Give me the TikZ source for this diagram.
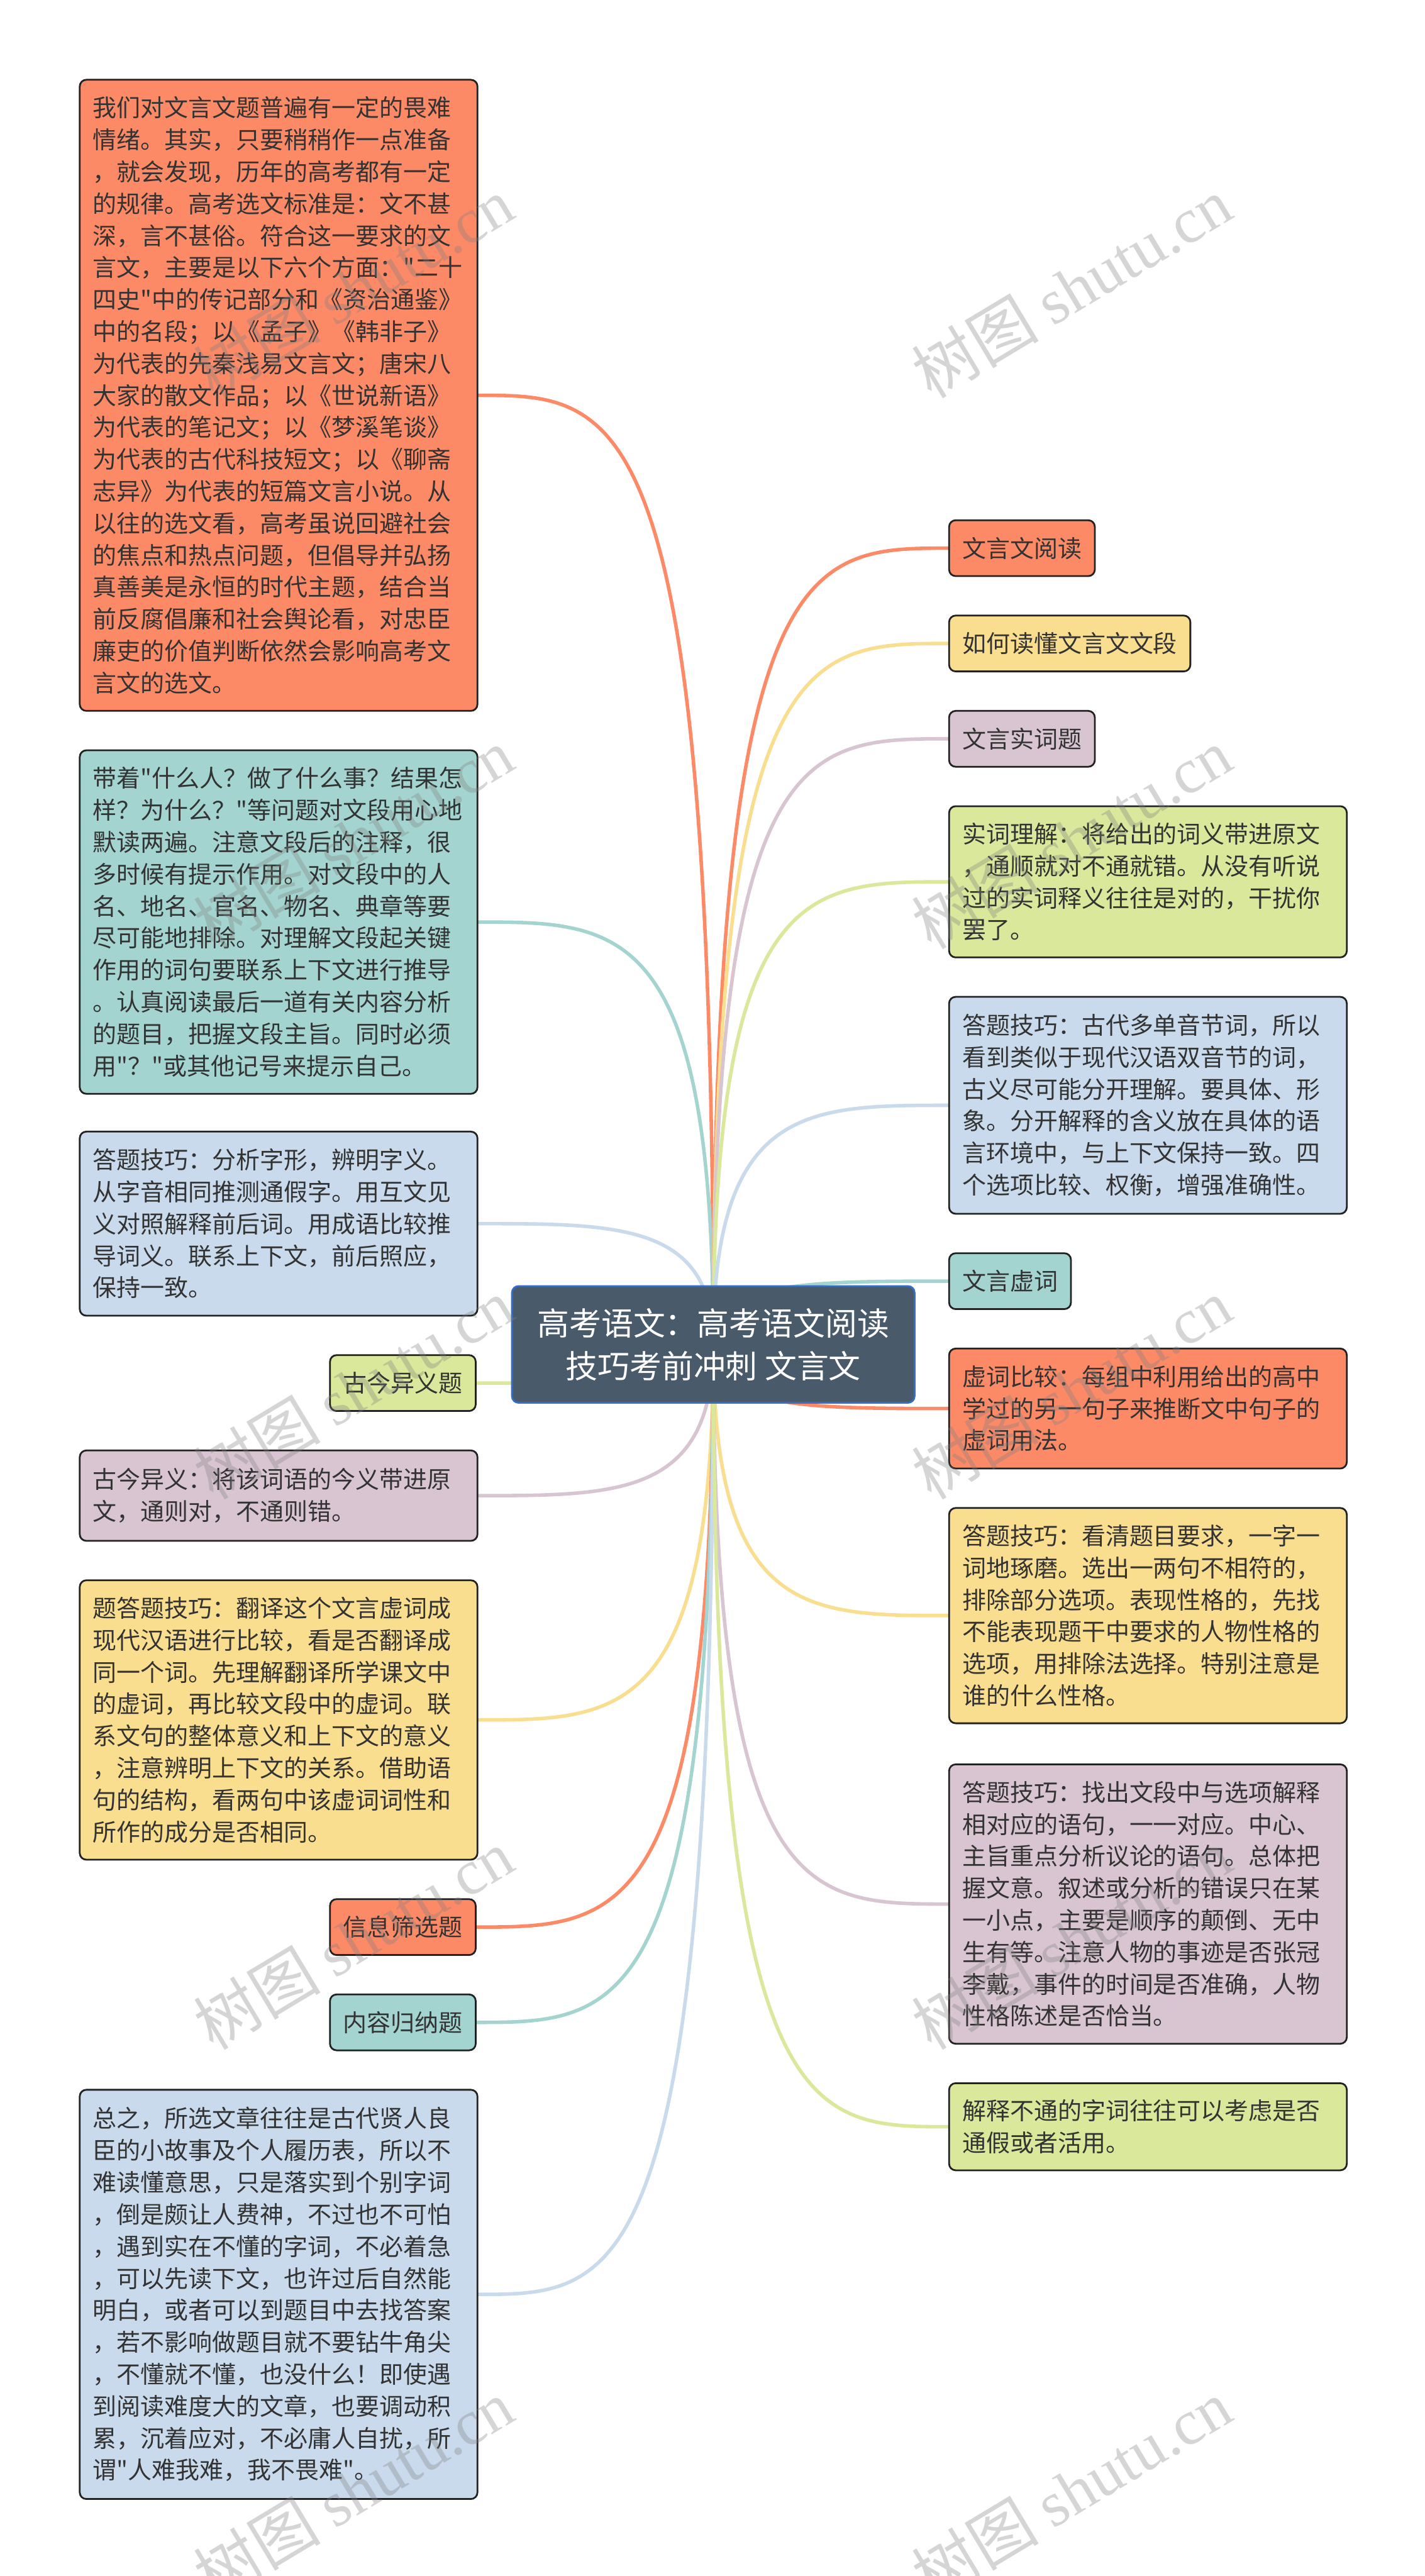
\documentclass[tikz,border=0pt]{standalone}
\usepackage{fontspec}
\setmainfont{Noto Sans CJK SC}[Ligatures=TeXOff]
\newfontfamily\wmfont{Liberation Serif}
\usetikzlibrary{calc,backgrounds}
\definecolor{cOrange}{RGB}{253,138,103}
\definecolor{cTeal}{RGB}{164,212,207}
\definecolor{cBlue}{RGB}{200,218,235}
\definecolor{cGreen}{RGB}{217,232,155}
\definecolor{cMauve}{RGB}{216,197,209}
\definecolor{cYellow}{RGB}{249,222,143}
\definecolor{cRoot}{RGB}{73,90,107}
\definecolor{cRootLine}{RGB}{52,110,200}
\definecolor{cInk}{RGB}{51,51,51}
\definecolor{cEdge}{RGB}{34,34,34}
\setlength{\parindent}{0pt}

\begin{document}
\begin{tikzpicture}[x=0.75pt,y=0.75pt,yscale=-1,xscale=1,
  leaf/.style={draw=cEdge, line width=0.8pt, rounded corners=3pt, anchor=north west, inner xsep=6pt, inner ysep=0pt, text width=169.5pt, align=left, text=cInk, font=\fontsize{10.9pt}{14.58pt}\selectfont},
  tag/.style={draw=cEdge, line width=0.8pt, rounded corners=3pt, inner xsep=6pt, inner ysep=0pt, minimum height=25.5pt, text=cInk, font=\fontsize{10.9pt}{14.58pt}\selectfont},
  root/.style={draw=cRootLine, fill=cRoot, line width=0.8pt, rounded corners=3pt, anchor=north west, minimum width=183.75pt, minimum height=53.25pt, inner sep=0pt, align=center, text=white, font=\fontsize{14.6pt}{19.5pt}\selectfont},
  link/.style={line width=1.6pt, line cap=round},
  wmtext/.style={text=gray, text opacity=0.33, rotate=31, font=\fontsize{29pt}{30pt}\selectfont}]
\useasboundingbox (0,0) rectangle (867,1567.4);

%Shape: Rounded Rect (centre)
\node [root] (gaokao) at (311,782) {高考语文：高考语文阅读\\技巧考前冲刺 文言文};

% Left side
\node [leaf, fill=cOrange, minimum height=288pt] (weinan) at (48,48) {我们对文言文题普遍有一定的畏难\\情绪。其实，只要稍稍作一点准备\\，就会发现，历年的高考都有一定\\的规律。高考选文标准是：文不甚\\深，言不甚俗。符合这一要求的文\\言文，主要是以下六个方面："二十\\四史"中的传记部分和《资治通鉴》\\中的名段；以《孟子》《韩非子》\\为代表的先秦浅易文言文；唐宋八\\大家的散文作品；以《世说新语》\\为代表的笔记文；以《梦溪笔谈》\\为代表的古代科技短文；以《聊斋\\志异》为代表的短篇文言小说。从\\以往的选文看，高考虽说回避社会\\的焦点和热点问题，但倡导并弘扬\\真善美是永恒的时代主题，结合当\\前反腐倡廉和社会舆论看，对忠臣\\廉吏的价值判断依然会影响高考文\\言文的选文。};
\node [leaf, fill=cTeal, minimum height=156.75pt] (daizhe) at (48,456) {带着"什么人？做了什么事？结果怎\\样？为什么？"等问题对文段用心地\\默读两遍。注意文段后的注释，很\\多时候有提示作用。对文段中的人\\名、地名、官名、物名、典章等要\\尽可能地排除。对理解文段起关键\\作用的词句要联系上下文进行推导\\。认真阅读最后一道有关内容分析\\的题目，把握文段主旨。同时必须\\用"？"或其他记号来提示自己。};
\node [leaf, fill=cBlue, minimum height=84pt] (zixing) at (48,688) {答题技巧：分析字形，辨明字义。\\从字音相同推测通假字。用互文见\\义对照解释前后词。用成语比较推\\导词义。联系上下文，前后照应，\\保持一致。};
\node [tag, fill=cGreen, anchor=north east] (gujin) at (290,824) {古今异义题};
\node [leaf, fill=cMauve, minimum height=41.25pt] (jinyi) at (48,882) {古今异义：将该词语的今义带进原\\文，通则对，不通则错。};
\node [leaf, fill=cYellow, minimum height=127.5pt] (fanyi) at (48,961) {题答题技巧：翻译这个文言虚词成\\现代汉语进行比较，看是否翻译成\\同一个词。先理解翻译所学课文中\\的虚词，再比较文段中的虚词。联\\系文句的整体意义和上下文的意义\\，注意辨明上下文的关系。借助语\\句的结构，看两句中该虚词词性和\\所作的成分是否相同。};
\node [tag, fill=cOrange, anchor=north east] (shaixuan) at (290,1155) {信息筛选题};
\node [tag, fill=cTeal, anchor=north east] (guina) at (290,1213) {内容归纳题};
\node [leaf, fill=cBlue, minimum height=186.75pt] (zongzhi) at (48,1271) {总之，所选文章往往是古代贤人良\\臣的小故事及个人履历表，所以不\\难读懂意思，只是落实到个别字词\\，倒是颇让人费神，不过也不可怕\\，遇到实在不懂的字词，不必着急\\，可以先读下文，也许过后自然能\\明白，或者可以到题目中去找答案\\，若不影响做题目就不要钻牛角尖\\，不懂就不懂，也没什么！即使遇\\到阅读难度大的文章，也要调动积\\累，沉着应对，不必庸人自扰，所\\谓"人难我难，我不畏难"。};

% Right side
\node [tag, fill=cOrange, anchor=north west] (yuedu) at (577,316) {文言文阅读};
\node [tag, fill=cYellow, anchor=north west] (dudong) at (577,374) {如何读懂文言文文段};
\node [tag, fill=cMauve, anchor=north west] (shici) at (577,432) {文言实词题};
\node [leaf, fill=cGreen, minimum height=69pt] (lijie) at (577,490) {实词理解：将给出的词义带进原文\\，通顺就对不通就错。从没有听说\\过的实词释义往往是对的，干扰你\\罢了。};
\node [leaf, fill=cBlue, minimum height=99pt] (danyin) at (577,606) {答题技巧：古代多单音节词，所以\\看到类似于现代汉语双音节的词，\\古义尽可能分开理解。要具体、形\\象。分开解释的含义放在具体的语\\言环境中，与上下文保持一致。四\\个选项比较、权衡，增强准确性。};
\node [tag, fill=cTeal, anchor=north west] (xuci) at (577,762) {文言虚词};
\node [leaf, fill=cOrange, minimum height=54.75pt] (bijiao) at (577,820) {虚词比较：每组中利用给出的高中\\学过的另一句子来推断文中句子的\\虚词用法。};
\node [leaf, fill=cYellow, minimum height=98.25pt] (kanqing) at (577,917) {答题技巧：看清题目要求，一字一\\词地琢磨。选出一两句不相符的，\\排除部分选项。表现性格的，先找\\不能表现题干中要求的人物性格的\\选项，用排除法选择。特别注意是\\谁的什么性格。};
\node [leaf, fill=cMauve, minimum height=127.5pt] (zhaochu) at (577,1073) {答题技巧：找出文段中与选项解释\\相对应的语句，一一对应。中心、\\主旨重点分析议论的语句。总体把\\握文意。叙述或分析的错误只在某\\一小点，主要是顺序的颠倒、无中\\生有等。注意人物的事迹是否张冠\\李戴，事件的时间是否准确，人物\\性格陈述是否恰当。};
\node [leaf, fill=cGreen, minimum height=39.75pt] (tongjia) at (577,1267) {解释不通的字词往往可以考虑是否\\通假或者活用。};

\begin{scope}[on background layer]
\fill [white] (0,0) rectangle (867,1567.4);
%Curve Lines (left)
\draw [link, cOrange] (gaokao.center) .. controls (gaokao.center |- weinan.east) and ($(weinan.east)!0.6!(gaokao.center |- weinan.east)$) .. (weinan.east);
\draw [link, cTeal] (gaokao.center) .. controls (gaokao.center |- daizhe.east) and ($(daizhe.east)!0.6!(gaokao.center |- daizhe.east)$) .. (daizhe.east);
\draw [link, cBlue] (gaokao.center) .. controls (gaokao.center |- zixing.east) and ($(zixing.east)!0.6!(gaokao.center |- zixing.east)$) .. (zixing.east);
\draw [link, cGreen] (gaokao.center) .. controls (gaokao.center |- gujin.east) and ($(gujin.east)!0.6!(gaokao.center |- gujin.east)$) .. (gujin.east);
\draw [link, cMauve] (gaokao.center) .. controls (gaokao.center |- jinyi.east) and ($(jinyi.east)!0.6!(gaokao.center |- jinyi.east)$) .. (jinyi.east);
\draw [link, cYellow] (gaokao.center) .. controls (gaokao.center |- fanyi.east) and ($(fanyi.east)!0.6!(gaokao.center |- fanyi.east)$) .. (fanyi.east);
\draw [link, cOrange] (gaokao.center) .. controls (gaokao.center |- shaixuan.east) and ($(shaixuan.east)!0.6!(gaokao.center |- shaixuan.east)$) .. (shaixuan.east);
\draw [link, cTeal] (gaokao.center) .. controls (gaokao.center |- guina.east) and ($(guina.east)!0.6!(gaokao.center |- guina.east)$) .. (guina.east);
\draw [link, cBlue] (gaokao.center) .. controls (gaokao.center |- zongzhi.east) and ($(zongzhi.east)!0.6!(gaokao.center |- zongzhi.east)$) .. (zongzhi.east);
%Curve Lines (right)
\draw [link, cOrange] (gaokao.center) .. controls (gaokao.center |- yuedu.west) and ($(yuedu.west)!0.6!(gaokao.center |- yuedu.west)$) .. (yuedu.west);
\draw [link, cYellow] (gaokao.center) .. controls (gaokao.center |- dudong.west) and ($(dudong.west)!0.6!(gaokao.center |- dudong.west)$) .. (dudong.west);
\draw [link, cMauve] (gaokao.center) .. controls (gaokao.center |- shici.west) and ($(shici.west)!0.6!(gaokao.center |- shici.west)$) .. (shici.west);
\draw [link, cGreen] (gaokao.center) .. controls (gaokao.center |- lijie.west) and ($(lijie.west)!0.6!(gaokao.center |- lijie.west)$) .. (lijie.west);
\draw [link, cBlue] (gaokao.center) .. controls (gaokao.center |- danyin.west) and ($(danyin.west)!0.6!(gaokao.center |- danyin.west)$) .. (danyin.west);
\draw [link, cTeal] (gaokao.center) .. controls (gaokao.center |- xuci.west) and ($(xuci.west)!0.6!(gaokao.center |- xuci.west)$) .. (xuci.west);
\draw [link, cOrange] (gaokao.center) .. controls (gaokao.center |- bijiao.west) and ($(bijiao.west)!0.6!(gaokao.center |- bijiao.west)$) .. (bijiao.west);
\draw [link, cYellow] (gaokao.center) .. controls (gaokao.center |- kanqing.west) and ($(kanqing.west)!0.6!(gaokao.center |- kanqing.west)$) .. (kanqing.west);
\draw [link, cMauve] (gaokao.center) .. controls (gaokao.center |- zhaochu.west) and ($(zhaochu.west)!0.6!(gaokao.center |- zhaochu.west)$) .. (zhaochu.west);
\draw [link, cGreen] (gaokao.center) .. controls (gaokao.center |- tongjia.west) and ($(tongjia.west)!0.6!(gaokao.center |- tongjia.west)$) .. (tongjia.west);
\end{scope}

% Text Node (watermarks)
\node [wmtext] (wmA) at (215,175) {树图 {\wmfont shutu.cn}};
\node [wmtext] (wmB) at (652,175) {树图 {\wmfont shutu.cn}};
\node [wmtext] (wmC) at (215,510) {树图 {\wmfont shutu.cn}};
\node [wmtext] (wmD) at (652,510) {树图 {\wmfont shutu.cn}};
\node [wmtext] (wmE) at (215,845) {树图 {\wmfont shutu.cn}};
\node [wmtext] (wmF) at (652,845) {树图 {\wmfont shutu.cn}};
\node [wmtext] (wmG) at (215,1180) {树图 {\wmfont shutu.cn}};
\node [wmtext] (wmH) at (652,1180) {树图 {\wmfont shutu.cn}};
\node [wmtext] (wmI) at (215,1515) {树图 {\wmfont shutu.cn}};
\node [wmtext] (wmJ) at (652,1515) {树图 {\wmfont shutu.cn}};

\end{tikzpicture}
\end{document}
